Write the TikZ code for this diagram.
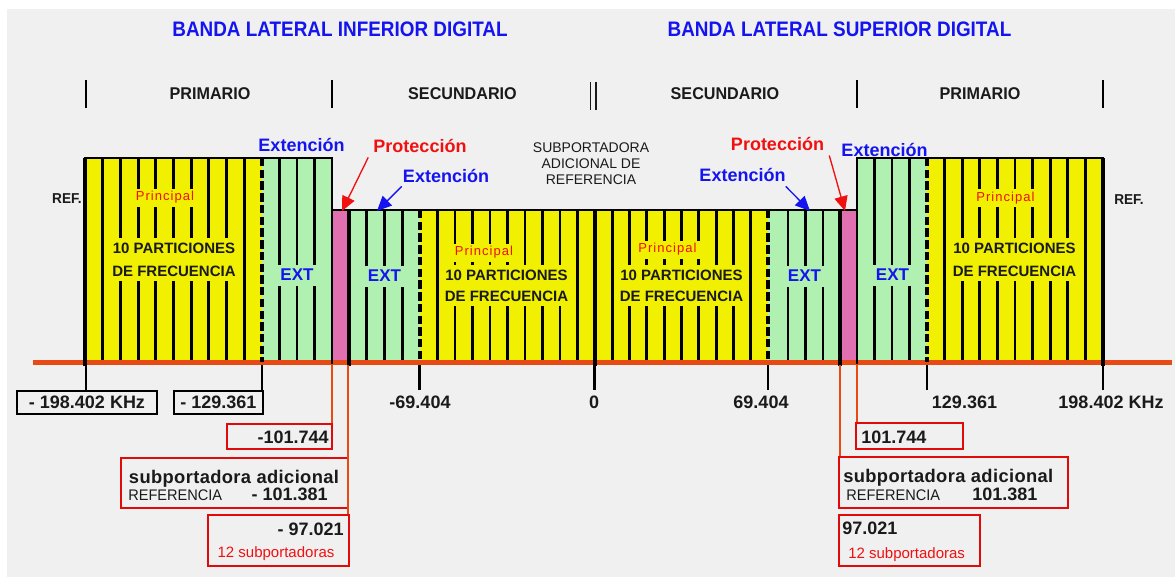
\documentclass[tikz,border=0pt]{standalone}
\usepackage{fontspec}
\setmainfont{Liberation Sans}
\newfontfamily\titlef[FakeStretch=0.9]{Liberation Sans}
\newfontfamily\secf[FakeStretch=0.95]{Liberation Sans}
\usetikzlibrary{arrows.meta}
\definecolor{bgc}{HTML}{F0F0F0}
\definecolor{yel}{HTML}{F0F000}
\definecolor{grn}{HTML}{B0F0B0}
\definecolor{pnk}{HTML}{E070B0}
\definecolor{org}{HTML}{E84A14}
\definecolor{redc}{HTML}{F01010}
\definecolor{boxred}{HTML}{E00A0A}
\definecolor{blu}{HTML}{1414F0}
\definecolor{dark}{HTML}{1A1A1A}
\begin{document}
\begin{tikzpicture}[x=0.75pt,y=-0.75pt,
  titlet/.style={font=\titlef\bfseries\fontsize{15.75}{18}\selectfont, text=blu, anchor=base, inner sep=0pt},
  hdrlab/.style={font=\secf\bfseries\fontsize{12.75}{15}\selectfont, text=dark, anchor=base, inner sep=0pt},
  hdrbar/.style={line width=1.9pt, black},
  hdrthin/.style={line width=1.0pt, dark},
  bluelab/.style={font=\bfseries\fontsize{13.5}{16}\selectfont, text=blu, anchor=base, inner sep=0pt},
  redlab/.style={font=\bfseries\fontsize{13.5}{16}\selectfont, text=redc, anchor=base, inner sep=0pt},
  subref/.style={font=\fontsize{10.5}{12}\selectfont, text=dark, align=center, inner sep=0pt},
  reft/.style={font=\secf\bfseries\fontsize{10.75}{12}\selectfont, text=dark, anchor=base, inner sep=0pt},
  princ/.style={font=\fontsize{9.75}{11}\selectfont\addfontfeature{LetterSpace=8}, text=redc, anchor=base, inner xsep=4pt, inner ysep=2.2pt},
  partsa/.style={font=\bfseries\fontsize{11.25}{17.25}\selectfont, text=dark, align=center, inner xsep=3pt, inner ysep=3.75pt},
  partsb/.style={font=\bfseries\fontsize{11.25}{15.75}\selectfont, text=dark, align=center, inner xsep=3pt, inner ysep=3.75pt},
  extt/.style={font=\bfseries\fontsize{12.75}{15}\selectfont, text=blu, anchor=base, inner xsep=2.25pt, inner ysep=3.4pt},
  stripe/.style={line width=2.2pt, black},
  bord/.style={line width=3.6pt, black},
  edgeln/.style={line width=1.8pt, black},
  dashsep/.style={line width=2.8pt, black, dash pattern=on 6.3pt off 2.5pt},
  baseln/.style={line width=4.1pt, org},
  redarr/.style={draw=redc, line width=1.0pt, -{Triangle[length=11pt,width=10pt]}},
  bluarr/.style={draw=blu, line width=1.0pt, -{Triangle[length=11pt,width=10pt]}},
  numt/.style={font=\bfseries\fontsize{13.5}{16}\selectfont, text=dark, inner sep=0pt},
  smallt/.style={font=\secf\fontsize{11.5}{13}\selectfont, text=dark, inner sep=0pt},
  redsm/.style={font=\fontsize{11.25}{13}\selectfont, text=redc, inner sep=0pt},
  bbox/.style={draw=black, line width=1.9pt, inner sep=0pt, font=\bfseries\fontsize{13.5}{16}\selectfont, text=dark},
  rbox/.style={draw=boxred, line width=2.2pt, inner sep=0pt},
  tickc/.style={line width=1.9pt, black},
  orgc/.style={line width=1.5pt, org}
]
\useasboundingbox (0,0) rectangle (1175,577);
\fill[white] (0,0) rectangle (1175,577);
\fill[bgc] (7,9) rectangle (1175,577);

% titles
\node[titlet] (tInf) at (340,37) {BANDA LATERAL INFERIOR DIGITAL};
\node[titlet] (tSup) at (839.5,37) {BANDA LATERAL SUPERIOR DIGITAL};

% header row
\foreach \x in {86,332,857,1103} \draw[hdrbar] (\x,80) -- (\x,108);
\draw[hdrthin] (590.5,82) -- (590.5,110) (596,82) -- (596,110);
\node[hdrlab] (hP1) at (210,100) {PRIMARIO};
\node[hdrlab] (hS1) at (462.5,100) {SECUNDARIO};
\node[hdrlab] (hS2) at (725,100) {SECUNDARIO};
\node[hdrlab] (hP2) at (980,100) {PRIMARIO};

% fills
\fill[yel] (85,158) rectangle (262,362);
\fill[grn] (262,158) rectangle (332,362);
\fill[pnk] (332,210) rectangle (348,362);
\fill[grn] (348,210) rectangle (420,362);
\fill[yel] (420,210) rectangle (768,362);
\fill[grn] (768,210) rectangle (840,362);
\fill[pnk] (840,210) rectangle (857,362);
\fill[grn] (857,158) rectangle (927,362);
\fill[yel] (927,158) rectangle (1103,362);

% stripes
\foreach \k in {1,...,9} {
  \draw[stripe] ({85+17.7*\k},158) -- ({85+17.7*\k},363);
  \draw[stripe] ({420+17.5*\k},210) -- ({420+17.5*\k},363);
  \draw[stripe] ({595+17.3*\k},210) -- ({595+17.3*\k},363);
  \draw[stripe] ({927+17.6*\k},158) -- ({927+17.6*\k},363);
}
\foreach \k in {1,2,3} {
  \draw[stripe] ({262+17.5*\k},158) -- ({262+17.5*\k},363);
  \draw[stripe] ({349+17.7*\k},210) -- ({349+17.7*\k},363);
  \draw[stripe] ({770.5+17.5*\k},210) -- ({770.5+17.5*\k},363);
  \draw[stripe] ({857+17.5*\k},158) -- ({857+17.5*\k},363);
}

% labels inside the bands
\node[princ,fill=yel] (pr1) at (165,201) {Principal};
\node[princ,fill=yel] (pr2) at (484,256) {Principal};
\node[princ,fill=yel] (pr3) at (667.5,253) {Principal};
\node[princ,fill=yel] (pr4) at (1005.5,201.5) {Principal};
\node[partsa,fill=yel] (pa1) at (174,259.5) {10 PARTICIONES\\DE FRECUENCIA};
\node[partsb,fill=yel] (pa2) at (506.5,285.5) {10 PARTICIONES\\DE FRECUENCIA};
\node[partsb,fill=yel] (pa3) at (681.5,285.5) {10 PARTICIONES\\DE FRECUENCIA};
\node[partsa,fill=yel] (pa4) at (1014.5,259.5) {10 PARTICIONES\\DE FRECUENCIA};
\node[extt,fill=grn] (ex1) at (297,281) {EXT};
\node[extt,fill=grn] (ex2) at (384.5,282) {EXT};
\node[extt,fill=grn] (ex3) at (804.5,282) {EXT};
\node[extt,fill=grn] (ex4) at (892.5,281) {EXT};

% baseline
\draw[baseln] (33,362.5) -- (1172,362.5);

% dashed separators
\foreach \x/\t in {262/158, 420/210, 768/210, 927/158} \draw[dashsep] (\x,\t) -- (\x,362);

% borders
\draw[bord] (85,158) -- (85,366);
\draw[bord] (349,210) -- (349,366);
\draw[bord] (595,210) -- (595,366);
\draw[bord] (840,210) -- (840,366);
\draw[bord] (1103,158) -- (1103,366);
\draw[edgeln] (84,158) -- (332,158) -- (332,364);
\draw[edgeln] (332,210) -- (857,210);
\draw[edgeln] (857,364) -- (857,158) -- (1104,158);

% outside labels
\node[reft] (refL) at (67,204) {REF.};
\node[reft] (refR) at (1129,205) {REF.};
\node[subref] (subref) at (591,164) {SUBPORTADORA\\ADICIONAL DE\\REFERENCIA};

\node[bluelab] (extA) at (301.5,152) {Extención};
\node[bluelab] (extB) at (446,183) {Extención};
\node[bluelab] (extC) at (742.5,182) {Extención};
\node[bluelab] (extD) at (884.5,156.5) {Extención};
\node[redlab] (proA) at (420,153) {Protección};
\node[redlab] (proB) at (777.5,151) {Protección};

\coordinate (tipA) at (342,211);
\coordinate (tipB) at (377,211);
\coordinate (tipC) at (810,211);
\coordinate (tipD) at (845,211);
\draw[redarr] ([shift={(-5,4)}]proA.south west) -- (tipA);
\draw[bluarr] ([shift={(-1,3)}]extB.south west) -- (tipB);
\draw[bluarr] ([shift={(0,4)}]extC.south east) -- (tipC);
\draw[redarr] ([shift={(5,4)}]proB.south east) -- (tipD);

% axis labels
\node[numt, anchor=base, inner ysep=3.75pt] (a69L) at (420,408) {-69.404};
\node[numt, anchor=base, inner ysep=3.75pt] (a0) at (594,408) {0};
\node[numt, anchor=base, inner ysep=3.75pt] (a69R) at (761,408) {69.404};
\node[numt, anchor=base, inner ysep=3.75pt] (a129R) at (964.5,408) {129.361};
\node[numt, anchor=base, inner ysep=3.75pt] (a198R) at (1111,408) {198.402 KHz};

% boxes
\node[bbox, minimum width=105pt, minimum height=17.25pt] (B198) at (87,402.5) {- 198.402 KHz};
\node[bbox, minimum width=66.75pt, minimum height=17.25pt] (B129) at (218.5,402.5) {- 129.361};
\node[rbox, minimum width=78.75pt, minimum height=18.75pt] (R101L) at (279.5,436.5) {};
\node[rbox, minimum width=170.25pt, minimum height=37.5pt] (RsubL) at (234.5,483) {};
\node[rbox, minimum width=105.75pt, minimum height=38.25pt] (R97L) at (278.5,540.5) {};
\node[rbox, minimum width=80.25pt, minimum height=19.5pt] (R101R) at (909.5,436) {};
\node[rbox, minimum width=171.75pt, minimum height=38.25pt] (RsubR) at (953.5,482.5) {};
\node[rbox, minimum width=105.75pt, minimum height=38.25pt] (R97R) at (909.5,540.5) {};

% box texts
\node[numt, anchor=base east] (v101L) at (329,443) {-101.744};
\node[numt, anchor=base, font=\bfseries\fontsize{13.75}{16}\selectfont\addfontfeature{LetterSpace=2}] (sL) at (234,483) {subportadora adicional};
\node[smallt, anchor=base west] (rfL) at (128,500) {REFERENCIA};
\node[numt, anchor=base east] (v381L) at (328,500.5) {- 101.381};
\node[numt, anchor=base east] (v97L) at (344,535) {- 97.021};
\node[redsm, anchor=base] (s12L) at (276,557) {12 subportadoras};
\node[numt, anchor=base west] (v101R) at (861,443) {101.744};
\node[numt, anchor=base west, font=\bfseries\fontsize{13.75}{16}\selectfont\addfontfeature{LetterSpace=2}] (sR) at (843,482) {subportadora adicional};
\node[smallt, anchor=base west] (rfR) at (846,500) {REFERENCIA};
\node[numt, anchor=base west] (v381R) at (972,500) {101.381};
\node[numt, anchor=base west] (v97R) at (842,534) {97.021};
\node[redsm, anchor=base west] (s12R) at (848,558) {12 subportadoras};

% ticks / connectors
\coordinate (k86) at (86,365);
\coordinate (k262) at (262,365);
\coordinate (k420) at (419.5,365);
\coordinate (k595) at (594.5,365);
\coordinate (k768) at (768,365);
\coordinate (k927) at (927,365);
\coordinate (k1103) at (1103,365);
\draw[tickc] (k86) -- (k86 |- B198.north);
\draw[tickc] (k262) -- (k262 |- B129.north);
\draw[tickc] (k420) -- (k420 |- a69L.north);
\draw[tickc] (k595) -- (k595 |- a0.north);
\draw[tickc] (k768) -- (k768 |- a69R.north);
\draw[tickc] (k927) -- (k927 |- a129R.north);
\draw[tickc] (k1103) -- (k1103 |- a198R.north);

\coordinate (k332) at (332,365);
\coordinate (k348) at (348,365);
\coordinate (k840) at (840,365);
\coordinate (k857) at (857,365);
\draw[orgc] (k332) -- (k332 |- R101L.north);
\draw[orgc] (k348) -- (k348 |- R97L.north);
\draw[orgc] (k840) -- (k840 |- RsubR.north);
\draw[orgc] (k857) -- (k857 |- R101R.north);
\end{tikzpicture}
\end{document}
